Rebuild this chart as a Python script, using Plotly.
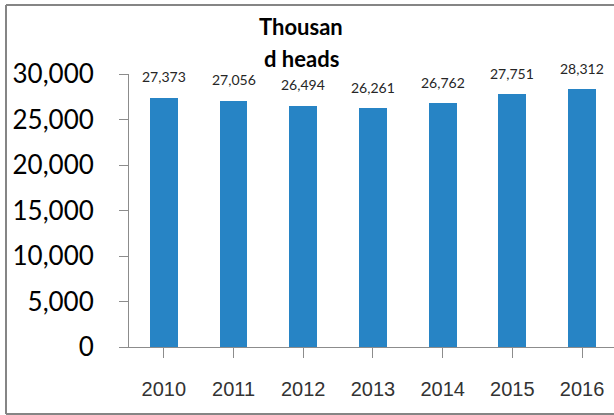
import plotly.graph_objects as go

# Cattle inventory, thousand heads
years = ["2010", "2011", "2012", "2013", "2014", "2015", "2016"]
heads = [27373, 27056, 26494, 26261, 26762, 27751, 28312]
value_labels = ["27,373", "27,056", "26,494", "26,261", "26,762", "27,751", "28,312"]
y_ticks = [0, 5000, 10000, 15000, 20000, 25000, 30000]
y_tick_text = ["0", "5,000", "10,000", "15,000", "20,000", "25,000", "30,000"]

W, H = 614, 415
PLOT_L, PLOT_R, PLOT_T, PLOT_B = 129, 614, 74, 347
CAT_W = 69.7  # pixels per category

axis_grey = "#8c8c8c"
bar_blue = "#2784C5"

fig = go.Figure()
fig.add_trace(go.Bar(
    x=list(range(len(years))),
    y=heads,
    width=0.4,
    marker=dict(color=bar_blue, line=dict(width=0)),
    hoverinfo="skip",
))

# value labels above each bar
for i, (v, t) in enumerate(zip(heads, value_labels)):
    fig.add_annotation(
        x=i, y=v, text=t, showarrow=False,
        xref="x", yref="y", yanchor="middle", yshift=21,
        font=dict(family="Lato, Noto Sans, sans-serif", size=14, color="#262626"),
    )

def px_to_paper_x(px):
    return (px - PLOT_L) / (PLOT_R - PLOT_L)

def px_to_paper_y(py):
    return (PLOT_B - py) / (PLOT_B - PLOT_T)

# two-line bold heading
for txt, cy in (("Thousan", 27), ("d heads", 59)):
    fig.add_annotation(
        x=px_to_paper_x(301), y=px_to_paper_y(cy), xref="paper", yref="paper",
        text="<b>%s</b>" % txt, showarrow=False, xanchor="center", yanchor="middle",
        font=dict(family="Lato, Noto Sans, sans-serif", size=22, color="#000000"),
    )

# outer frame (left, top, bottom)
frame = dict(type="line", xref="paper", yref="paper",
             line=dict(color="#858585", width=2))
fig.add_shape(**frame, x0=px_to_paper_x(6), x1=px_to_paper_x(6),
              y0=px_to_paper_y(5), y1=px_to_paper_y(414))
fig.add_shape(**frame, x0=px_to_paper_x(6), x1=px_to_paper_x(W + 2),
              y0=px_to_paper_y(5), y1=px_to_paper_y(5))
fig.add_shape(**frame, x0=px_to_paper_x(6), x1=px_to_paper_x(W + 2),
              y0=px_to_paper_y(414), y1=px_to_paper_y(414))

n_vis = (PLOT_R - PLOT_L) / CAT_W
fig.update_layout(
    width=W, height=H,
    margin=dict(l=PLOT_L, r=W - PLOT_R, t=PLOT_T, b=H - PLOT_B, pad=0),
    paper_bgcolor="white", plot_bgcolor="white",
    showlegend=False,
    bargap=0,
    xaxis=dict(
        range=[-0.5, -0.5 + n_vis],
        tickmode="array",
        tickvals=list(range(len(years))),
        ticktext=years,
        tickson="boundaries",
        ticks="outside", ticklen=10, tickcolor=axis_grey, tickwidth=1,
        showline=True, linecolor=axis_grey, linewidth=1,
        showgrid=False, zeroline=False,
        ticklabelstandoff=14,
        tickfont=dict(family="Liberation Sans, Arial, sans-serif", size=20, color="#333333"),
    ),
    yaxis=dict(
        range=[0, 30000],
        tickmode="array",
        tickvals=y_ticks,
        ticktext=y_tick_text,
        ticks="outside", ticklen=9, tickcolor=axis_grey, tickwidth=1,
        showline=True, linecolor=axis_grey, linewidth=1,
        showgrid=False, zeroline=False,
        ticklabelstandoff=20,
        tickfont=dict(family="Lato, Noto Sans, sans-serif", size=26, color="#000000"),
    ),
)

fig.write_html("out.html")
